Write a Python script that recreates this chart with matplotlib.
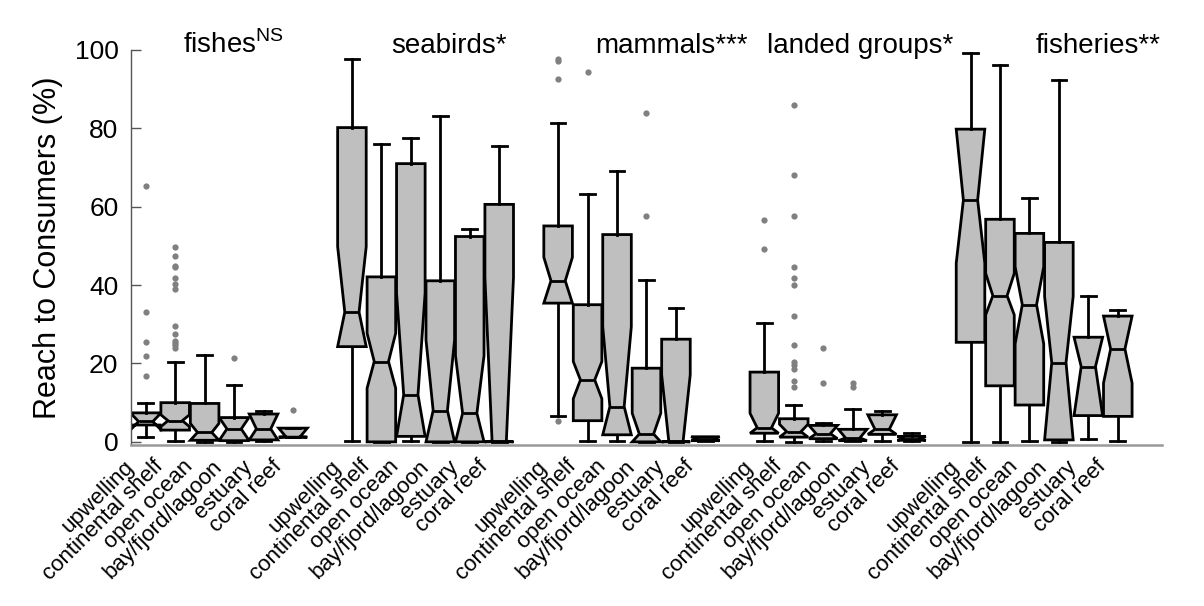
import matplotlib.pyplot as plt
import matplotlib.transforms as mtransforms

plt.rcParams['font.family'] = ['Liberation Sans', 'DejaVu Sans']
plt.rcParams['mathtext.fontset'] = 'custom'
plt.rcParams['mathtext.rm'] = 'Liberation Sans'

# categories
habitats = ['upwelling', 'continental shelf', 'open ocean',
            'bay/fjord/lagoon', 'estuary', 'coral reef']
groups = [r'fishes$^{\mathrm{NS}}$', 'seabirds*', 'mammals***',
          'landed groups*', 'fisheries**']

# box statistics, 6 habitats per group, in group order
# fishes | seabirds | mammals | landed groups | fisheries
whislo = [1.3, 0.1, 0.0, 0.0, 0.1, 1.2,
          0.1, 0.0, 0.1, 0.0, 0.0, 0.0,
          6.6, 0.1, 0.1, 0.0, 0.0, 0.3,
          0.1, 0.0, 0.3, 0.1, 0.3, 0.3,
          0.0, 0.0, 0.3, 0.0, 0.7, 0.1]
q1 = [4.3, 3.0, 0.4, 0.3, 0.5, 1.2,
      24.3, 0.0, 1.4, 0.0, 0.0, 0.0,
      35.4, 5.4, 1.8, 0.0, 0.0, 0.3,
      2.2, 1.2, 0.8, 0.3, 1.9, 0.4,
      25.4, 14.3, 9.4, 0.5, 6.7, 6.5]
cilo = [3.3, 3.9, 0.4, 0.6, 0.5, 1.2,
        24.3, 13.7, 1.4, 0.0, 0.0, 0.0,
        35.4, 11.0, 1.8, 0.0, 0.0, 0.3,
        2.2, 1.2, 0.8, 0.3, 1.9, 0.4,
        45.6, 32.4, 25.0, 0.5, 6.7, 15.0]
med = [5.2, 5.4, 2.4, 3.3, 3.3, 1.3,
       33.1, 20.5, 12.0, 8.0, 7.3, 0.2,
       41.1, 15.8, 9.0, 2.0, 0.1, 0.5,
       3.6, 2.6, 2.1, 1.0, 3.2, 0.8,
       61.7, 37.3, 35.0, 20.2, 19.2, 23.7]
cihi = [7.1, 6.9, 4.7, 6.0, 7.1, 3.5,
        49.8, 27.7, 38.0, 26.0, 22.0, 42.0,
        47.1, 20.5, 29.4, 7.3, 17.1, 1.3,
        7.3, 4.5, 4.2, 3.2, 6.9, 1.4,
        79.8, 43.0, 44.7, 37.1, 26.7, 32.1]
q3 = [7.4, 10.0, 9.8, 6.2, 7.1, 3.5,
      80.2, 42.1, 71.0, 41.1, 52.4, 60.6,
      55.1, 35.0, 52.9, 18.8, 26.2, 1.3,
      17.8, 5.9, 4.2, 3.2, 6.9, 1.4,
      79.8, 56.8, 53.2, 50.9, 26.7, 32.1]
whishi = [9.8, 20.5, 22.1, 14.5, 8.0, 3.5,
          97.8, 76.0, 77.6, 83.2, 54.2, 75.4,
          81.3, 63.2, 69.0, 41.3, 34.2, 1.3,
          30.3, 9.3, 4.9, 8.3, 8.0, 2.2,
          99.3, 96.1, 62.2, 92.3, 37.3, 33.7]
fliers = [[16.8, 21.8, 25.6, 33.2, 65.3],
          [23.9, 24.6, 25.2, 25.8, 27.5, 29.6, 39.0, 40.3, 41.9, 44.5, 44.9, 47.4, 49.7],
          [], [21.5], [], [8.2],
          [], [], [], [], [], [],
          [5.4, 92.7, 97.3, 97.8], [94.5], [], [57.7, 83.8], [], [],
          [49.3, 56.5],
          [14.1, 15.6, 18.5, 19.7, 20.3, 24.6, 32.0, 40.1, 41.8, 44.5, 57.7, 68.2, 86.0],
          [14.9, 24.0], [13.9, 14.9], [], [],
          [], [], [], [], [], []]

stats = []
for i in range(len(med)):
    stats.append({'whislo': whislo[i], 'q1': q1[i], 'cilo': cilo[i],
                  'med': med[i], 'cihi': cihi[i], 'q3': q3[i],
                  'whishi': whishi[i], 'fliers': fliers[i]})

# 6 boxes per group with a one-slot gap between groups
positions = [1 + 7 * g + i for g in range(len(groups)) for i in range(len(habitats))]

fig = plt.figure(figsize=(12.04, 6.06), dpi=100)
ax = fig.add_axes([0.1088, 0.2657, 0.8563, 0.6518])

lw = 2.0
ax.bxp(stats, positions=positions, widths=0.97, capwidths=0.5,
       shownotches=True, patch_artist=True,
       boxprops=dict(facecolor='#bfbfbf', edgecolor='black', linewidth=lw),
       medianprops=dict(color='black', linewidth=lw),
       whiskerprops=dict(color='black', linewidth=lw),
       capprops=dict(color='black', linewidth=lw),
       flierprops=dict(marker='o', markerfacecolor='#808080',
                       markeredgecolor='none', markersize=4.5))

ax.set_xlim(0.5, 35.5)
ax.set_ylim(-0.8, 100)

ax.spines['top'].set_visible(False)
ax.spines['right'].set_visible(False)
ax.spines['left'].set_color('#555555')
ax.spines['left'].set_linewidth(1.0)
ax.spines['bottom'].set_color('#999999')
ax.spines['bottom'].set_linewidth(1.8)

ax.set_yticks([0, 20, 40, 60, 80, 100])
ax.tick_params(axis='y', direction='in', length=7, width=1, color='#555555',
               labelsize=19, pad=9)
ax.set_xticks(positions)
ax.set_xticklabels(habitats * len(groups), rotation=45, ha='right',
                   rotation_mode='anchor', fontsize=16)
ax.tick_params(axis='x', length=0, pad=8)
# labels sit a bit left of their box, as in the original
shift = mtransforms.ScaledTranslation(-0.22, 0, fig.dpi_scale_trans)
for lab in ax.get_xticklabels():
    lab.set_transform(lab.get_transform() + shift)

ax.set_ylabel('Reach to Consumers (%)', fontsize=22, va='center')
ax.yaxis.set_label_coords(-0.0805, 0.5)

# group titles, placed by hand as in the original figure
title_x = [2.26, 9.32, 16.25, 22.09, 31.2]
for x, t in zip(title_x, groups):
    ax.text(x, 99.3, t, fontsize=20, ha='left', va='baseline', clip_on=False)

fig.savefig('out.png', dpi=100)
